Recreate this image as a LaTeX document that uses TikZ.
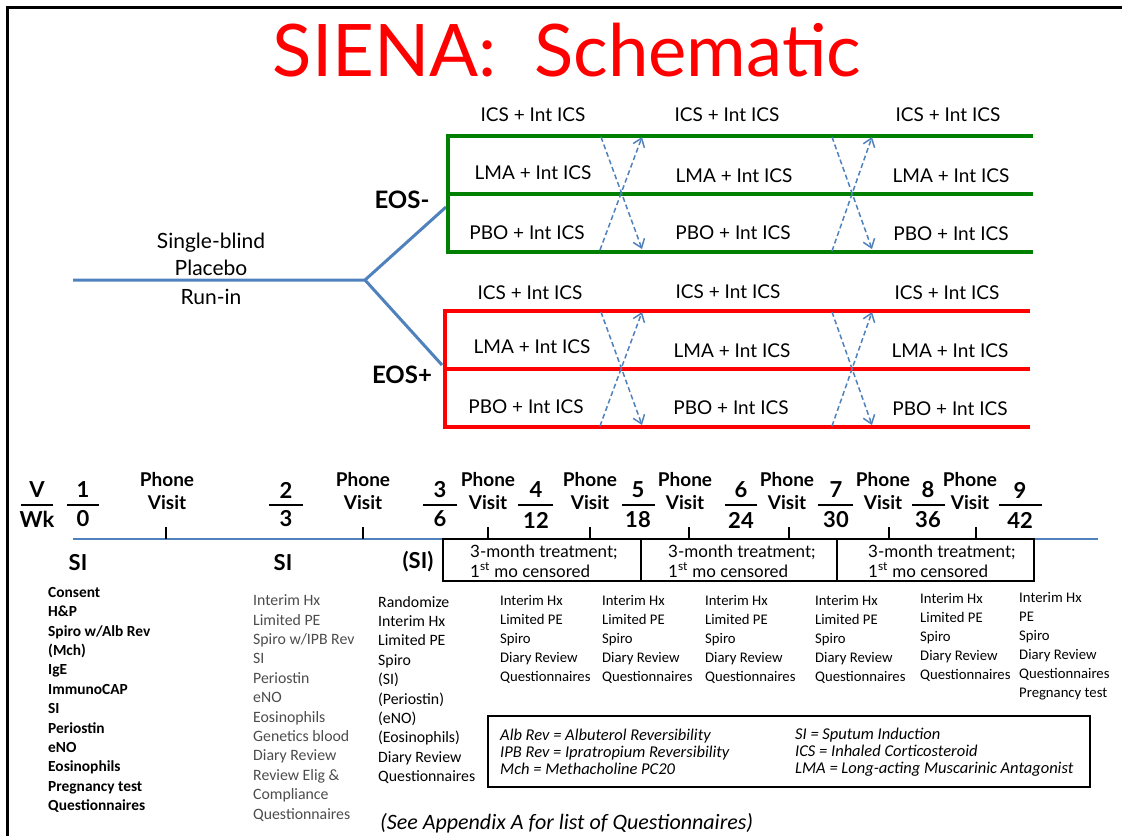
\documentclass[tikz,border=0pt]{standalone}
\usepackage{fontspec}
\setmainfont{Carlito}
\newfontfamily\comic{Lato}
\usetikzlibrary{arrows.meta}
\definecolor{runblue}{RGB}{79,129,189}
\definecolor{armgreen}{RGB}{0,128,0}
\definecolor{armred}{RGB}{255,0,0}
\tikzset{
  armtext/.style={font=\comic\fontsize{19}{22}\selectfont},
  eostext/.style={font=\comic\bfseries\fontsize{24}{28}\selectfont},
  visnum/.style={font=\comic\bfseries\fontsize{22}{24}\selectfont, inner sep=0pt},
  phone/.style={font=\comic\bfseries\fontsize{19}{23}\selectfont, align=center, inner sep=0pt},
  sitext/.style={font=\comic\bfseries\fontsize{22}{24}\selectfont},
  treat/.style={font=\comic\fontsize{17}{20}\selectfont, align=left, anchor=west, inner sep=0pt},
  visitlist/.style={font=\fontsize{15.8}{19.4}\selectfont, align=left, anchor=west, inner sep=0pt},
  shortlist/.style={font=\fontsize{14.7}{19}\selectfont, align=left, anchor=west, inner sep=0pt},
  legendtext/.style={font=\itshape\fontsize{16.5}{17}\selectfont, align=left, anchor=west, inner sep=0pt},
  crossarrow/.style={runblue, line width=1.5pt, dash pattern=on 5pt off 3pt, -{Straight Barb[length=8pt,width=12pt]}},
}
\begin{document}
\begin{tikzpicture}[x=1pt,y=-1pt]
\useasboundingbox (0,0) rectangle (1122,836);
\draw[line width=3pt] (7,836) -- (7,7) -- (1122,7);
\node[text=armred, font=\comic\fontsize{72.5}{76}\selectfont] (title) at (567,50) {SIENA:\ \ Schematic};

% run-in and split into the two strata
\coordinate (runin) at (73,280);
\coordinate (split) at (365,280);
\coordinate (neg) at (446,207);
\coordinate (pos) at (442,365);
\draw[runblue, line width=3pt, line join=round] (runin) -- (split) -- (neg);
\draw[runblue, line width=3pt] (split) -- (pos);
\node[armtext, font=\comic\fontsize{21}{27}\selectfont, align=center] (blind) at (211,254) {Single-blind\\Placebo};
\node[armtext, font=\comic\fontsize{21}{27}\selectfont] (runinlab) at (211,297) {Run-in};
\node[eostext] (eosneg) at (402,200) {EOS-};
\node[eostext] (eospos) at (402,375) {EOS+};

% EOS- arms
\draw[armgreen, line width=4pt] (1033,136) -- (448,136) -- (448,252) -- (1033,252);
\draw[armgreen, line width=4pt] (448,194) -- (1033,194);
\node[armtext] (gics1) at (533,115) {ICS + Int ICS};
\node[armtext] (gics2) at (727,115) {ICS + Int ICS};
\node[armtext] (gics3) at (948,115) {ICS + Int ICS};
\node[armtext] (glma1) at (533,173) {LMA + Int ICS};
\node[armtext] (glma2) at (734,176) {LMA + Int ICS};
\node[armtext] (glma3) at (951,176) {LMA + Int ICS};
\node[armtext] (gpbo1) at (527,233) {PBO + Int ICS};
\node[armtext] (gpbo2) at (733,233) {PBO + Int ICS};
\node[armtext] (gpbo3) at (951,234) {PBO + Int ICS};
\draw[crossarrow] (601,137) -- (642,249);
\draw[crossarrow] (600,250) -- (642,137);
\draw[crossarrow] (832,137) -- (872,249);
\draw[crossarrow] (832,251) -- (872,137);

% EOS+ arms
\draw[armred, line width=4pt] (1030,311) -- (445,311) -- (445,427) -- (1030,427);
\draw[armred, line width=4pt] (445,369) -- (1030,369);
\node[armtext] (rics1) at (530,293) {ICS + Int ICS};
\node[armtext] (rics2) at (728,292) {ICS + Int ICS};
\node[armtext] (rics3) at (947,293) {ICS + Int ICS};
\node[armtext] (rlma1) at (532,347) {LMA + Int ICS};
\node[armtext] (rlma2) at (732,351) {LMA + Int ICS};
\node[armtext] (rlma3) at (950,351) {LMA + Int ICS};
\node[armtext] (rpbo1) at (526,407) {PBO + Int ICS};
\node[armtext] (rpbo2) at (731,408) {PBO + Int ICS};
\node[armtext] (rpbo3) at (950,409) {PBO + Int ICS};
\draw[crossarrow] (601,312) -- (642,425);
\draw[crossarrow] (600,426) -- (642,312);
\draw[crossarrow] (832,312) -- (872,425);
\draw[crossarrow] (832,426) -- (872,312);

% timeline
\draw[runblue, line width=2.5pt] (73,539) -- (1098,539);
\node[visnum] (v0) at (37,490) {V};   \draw[line width=2pt] (21,505) -- (53,505);   \node[visnum] (w0) at (37,519) {Wk};
\node[visnum] (v1) at (83,490) {1};   \draw[line width=2pt] (67,505) -- (99,505);   \node[visnum] (w1) at (83,519) {0};
\node[visnum] (v2) at (286,490) {2};  \draw[line width=2pt] (269,505) -- (303,505); \node[visnum] (w2) at (286,519) {3};
\node[visnum] (v3) at (440,490) {3};  \draw[line width=2pt] (423,505) -- (457,505); \node[visnum] (w3) at (440,519) {6};
\node[visnum] (v4) at (536,490) {4};  \draw[line width=2pt] (518,505) -- (553,505); \node[visnum] (w4) at (536,520) {12};
\node[visnum] (v5) at (638,490) {5};  \draw[line width=2pt] (622,505) -- (655,505); \node[visnum] (w5) at (638,520) {18};
\node[visnum] (v6) at (741,490) {6};  \draw[line width=2pt] (725,505) -- (757,505); \node[visnum] (w6) at (741,520) {24};
\node[visnum] (v7) at (836,490) {7};  \draw[line width=2pt] (818,505) -- (853,505); \node[visnum] (w7) at (836,520) {30};
\node[visnum] (v8) at (928,490) {8};  \draw[line width=2pt] (912,505) -- (945,505); \node[visnum] (w8) at (928,520) {36};
\node[visnum] (v9) at (1020,490) {9}; \draw[line width=2pt] (999,505) -- (1042,505); \node[visnum] (w9) at (1020,520) {42};
\node[phone] (ph1) at (167,491) {Phone\\Visit}; \draw[line width=2pt] (166,527) -- (166,539);
\node[phone] (ph2) at (363,491) {Phone\\Visit}; \draw[line width=2pt] (363,527) -- (363,539);
\node[phone] (ph3) at (488,491) {Phone\\Visit}; \draw[line width=2pt] (488,527) -- (488,539);
\node[phone] (ph4) at (590,491) {Phone\\Visit}; \draw[line width=2pt] (590,527) -- (590,539);
\node[phone] (ph5) at (685,491) {Phone\\Visit}; \draw[line width=2pt] (689,527) -- (689,539);
\node[phone] (ph6) at (787,491) {Phone\\Visit}; \draw[line width=2pt] (789,527) -- (789,539);
\node[phone] (ph7) at (883,491) {Phone\\Visit}; \draw[line width=2pt] (889,527) -- (889,539);
\node[phone] (ph8) at (970,491) {Phone\\Visit}; \draw[line width=2pt] (976,527) -- (976,539);
\node[sitext] (si1) at (78,563) {SI};
\node[sitext] (si2) at (283,563) {SI};
\node[sitext] (si3) at (418,562) {(SI)};

% treatment periods
\draw[line width=2pt] (443,539) rectangle (1034,581);
\draw[line width=2pt] (641,539) -- (641,581);
\draw[line width=2pt] (837,539) -- (837,581);
\node[treat] (tp1) at (470,561) {3-month treatment;\\1\textsuperscript{st} mo censored};
\node[treat] (tp2) at (668,561) {3-month treatment;\\1\textsuperscript{st} mo censored};
\node[treat] (tp3) at (868,561) {3-month treatment;\\1\textsuperscript{st} mo censored};

% visit procedures
\node[visitlist, font=\bfseries\fontsize{15.4}{19.4}\selectfont] (list1) at (48,700) {Consent\\H\&P\\Spiro w/Alb Rev\\(Mch)\\IgE\\ImmunoCAP\\SI\\Periostin\\eNO\\Eosinophils\\Pregnancy test\\Questionnaires};
\node[visitlist, text=black!70] (list2) at (253,708) {Interim Hx\\Limited PE\\Spiro w/IPB Rev\\SI\\Periostin\\eNO\\Eosinophils\\Genetics blood\\Diary Review\\Review Elig \&\\Compliance\\Questionnaires};
\node[visitlist] (list3) at (378,690) {Randomize\\Interim Hx\\Limited PE\\Spiro\\(SI)\\(Periostin)\\(eNO)\\(Eosinophils)\\Diary Review\\Questionnaires};
\node[shortlist] (list4) at (500,639) {Interim Hx\\Limited PE\\Spiro\\Diary Review\\Questionnaires};
\node[shortlist] (list5) at (602,639) {Interim Hx\\Limited PE\\Spiro\\Diary Review\\Questionnaires};
\node[shortlist] (list6) at (705,639) {Interim Hx\\Limited PE\\Spiro\\Diary Review\\Questionnaires};
\node[shortlist] (list7) at (815,639) {Interim Hx\\Limited PE\\Spiro\\Diary Review\\Questionnaires};
\node[shortlist] (list8) at (920,637) {Interim Hx\\Limited PE\\Spiro\\Diary Review\\Questionnaires};
\node[shortlist] (list9) at (1019,646) {Interim Hx\\PE\\Spiro\\Diary Review\\Questionnaires\\Pregnancy test};

% abbreviations
\draw[line width=1.5pt] (488,716) rectangle (1090,787);
\node[legendtext] (abbr1) at (500,752) {Alb Rev = Albuterol Reversibility\\IPB Rev = Ipratropium Reversibility\\Mch = Methacholine PC20};
\node[legendtext] (abbr2) at (795,752) {SI = Sputum Induction\\ICS = Inhaled Corticosteroid\\LMA = Long-acting Muscarinic Antagonist};
\node[font=\itshape\fontsize{22}{24}\selectfont, anchor=west, inner sep=0pt] (appx) at (380,823) {(See Appendix A for list of Questionnaires)};
\end{tikzpicture}
\end{document}
